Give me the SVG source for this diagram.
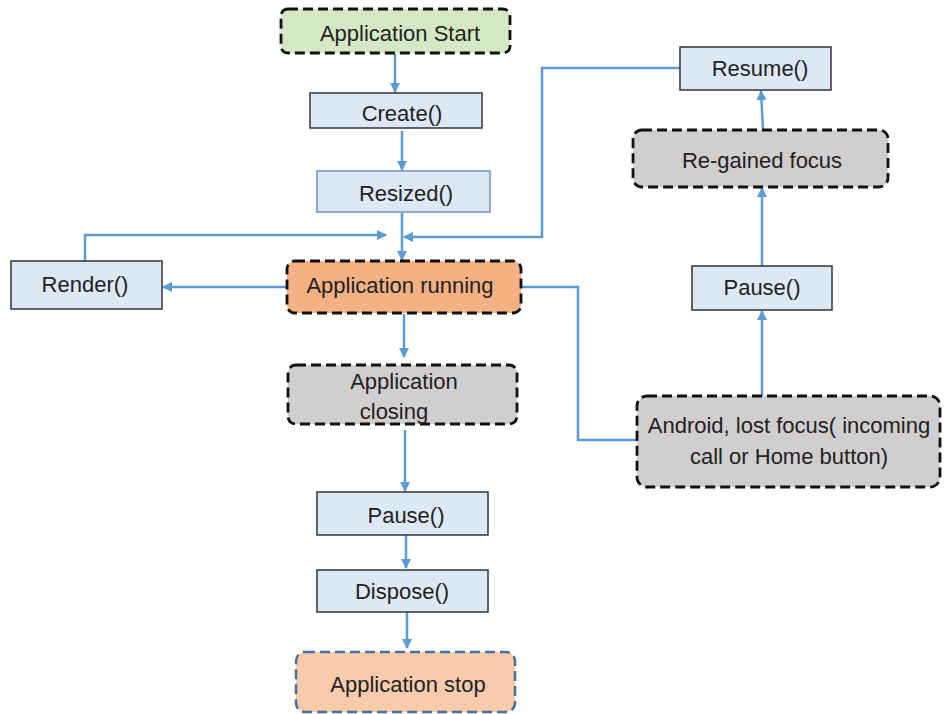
<svg xmlns="http://www.w3.org/2000/svg" width="945" height="714" viewBox="0 0 945 714">
<style>
text{font-family:"Liberation Sans",Arial,sans-serif;font-size:22px;fill:#222;text-anchor:middle;dominant-baseline:central}
.box{fill:#dde8f5;stroke:#333;stroke-width:1.5}
.dash{stroke:#111;stroke-width:2.8;stroke-dasharray:10 5}
.c{fill:none;stroke:#5b9bd5;stroke-width:2.5;marker-end:url(#ah)}
.cn{fill:none;stroke:#5b9bd5;stroke-width:2.5}
</style>
<defs>
<marker id="ah" viewBox="0 0 10 10" refX="9" refY="5" markerWidth="4" markerHeight="4" orient="auto" markerUnits="strokeWidth">
<path d="M0,0 L10,5 L0,10 z" fill="#5b9bd5"/>
</marker>
</defs>
<g id="connectors">
<path class="c" d="M395,54 V92"/>
<path class="c" d="M402,131 V170"/>
<path class="c" d="M402,213 V260"/>
<path class="c" d="M85,261 V235 H386"/>
<path class="c" d="M680,68 H542 V237 H404"/>
<path class="c" d="M287,287 H163"/>
<path class="c" d="M404,314 V357"/>
<path class="c" d="M405,430 V491"/>
<path class="c" d="M406,533 V568"/>
<path class="c" d="M407,612 V648"/>
<path class="cn" d="M521,287 H578 V440 H637"/>
<path class="c" d="M762,396 V311"/>
<path class="c" d="M762,266 V188"/>
<path class="c" d="M763,130 L761,91"/>
</g>
<g id="app-start"><rect class="dash" x="281" y="9" width="229" height="44" rx="7" fill="#d5e8c5"/><text x="400" y="33">Application Start</text></g>
<g id="create"><rect class="box" x="310" y="93" width="172" height="35"/><text x="402" y="113">Create()</text></g>
<g id="resized"><rect class="box" x="317" y="171" width="173" height="41" style="stroke:#6c8ebf"/><text x="406" y="193">Resized()</text></g>
<g id="render"><rect class="box" x="11" y="261" width="151" height="48"/><text x="85" y="284">Render()</text></g>
<g id="app-running"><rect class="dash" x="287" y="261" width="234" height="52" rx="8" fill="#f4b183"/><text x="400" y="285">Application running</text></g>
<g id="app-closing"><rect class="dash" x="288" y="365" width="229" height="59" rx="8" fill="#d0cece"/><text x="404" y="381">Application</text><text x="394" y="411">closing</text></g>
<g id="pause-left"><rect class="box" x="317" y="492" width="171" height="43"/><text x="406" y="515">Pause()</text></g>
<g id="dispose"><rect class="box" x="317" y="570" width="171" height="42"/><text x="402" y="591">Dispose()</text></g>
<g id="app-stop"><rect x="296" y="652" width="219" height="60" rx="9" fill="#f8cbad" stroke="#41719c" stroke-width="2.5" stroke-dasharray="10 5"/><text x="408" y="684">Application stop</text></g>
<g id="resume"><rect class="box" x="680" y="47" width="151" height="43"/><text x="760" y="68">Resume()</text></g>
<g id="regained"><rect class="dash" x="633" y="130" width="255" height="57" rx="9" fill="#d0cece"/><text x="762" y="160">Re-gained focus</text></g>
<g id="pause-right"><rect class="box" x="692" y="266" width="140" height="44"/><text x="762" y="287">Pause()</text></g>
<g id="android"><rect class="dash" x="637" y="396" width="303" height="91" rx="10" fill="#d0cece"/><text x="789" y="425">Android, lost focus( incoming</text><text x="789" y="456">call or Home button)</text></g>
</svg>
